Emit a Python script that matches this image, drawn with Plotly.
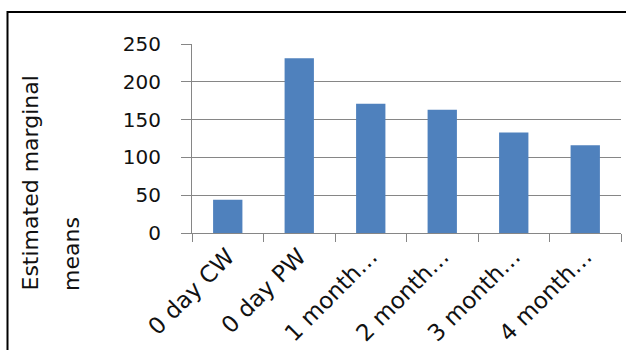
import plotly.graph_objects as go

# Data
categories = ["0 day CW", "0 day PW", "1 month\u2026", "2 month\u2026", "3 month\u2026", "4 month\u2026"]
means = [44, 231, 171, 163, 133, 116]
y_ticks = [0, 50, 100, 150, 200, 250]
y_title_lines = ["Estimated marginal", "means"]

W, H = 626, 350
PLOT_L, PLOT_R, PLOT_T, PLOT_B = 192, 621, 44, 233
FONT = "DejaVu Sans"
GRID = "#868686"
TEXT = "#111111"


def px_x(px):
    return (px - PLOT_L) / (PLOT_R - PLOT_L)


def px_y(py):
    return (PLOT_B - py) / (PLOT_B - PLOT_T)


fig = go.Figure(
    go.Bar(
        x=categories,
        y=means,
        marker=dict(color="#4f81bd", line=dict(width=0)),
    )
)

fig.update_layout(
    width=W,
    height=H,
    margin=dict(l=PLOT_L, r=W - PLOT_R, t=PLOT_T, b=H - PLOT_B, autoexpand=False),
    paper_bgcolor="white",
    plot_bgcolor="white",
    bargap=0.59,
    showlegend=False,
    font=dict(family=FONT, size=20, color=TEXT),
)

fig.update_xaxes(
    showline=True,
    linecolor=GRID,
    linewidth=1,
    ticks="outside",
    tickson="boundaries",
    ticklen=8,
    tickcolor=GRID,
    tickangle=-45,
    tickfont=dict(family=FONT, size=23, color=TEXT),
    showgrid=False,
)

fig.update_yaxes(
    range=[0, 250],
    tickvals=y_ticks,
    showline=True,
    linecolor=GRID,
    linewidth=1,
    ticks="outside",
    ticklen=10,
    tickcolor=GRID,
    showgrid=True,
    gridcolor=GRID,
    gridwidth=1,
    zeroline=False,
    ticklabelstandoff=16,
    tickfont=dict(family=FONT, size=20, color=TEXT),
)

# Two-line axis title, each line bottom-aligned
for text, cx in zip(y_title_lines, [30, 71]):
    fig.add_annotation(
        text=text,
        xref="paper",
        yref="paper",
        x=px_x(cx),
        y=px_y(293),
        xanchor="center",
        yanchor="bottom",
        textangle=-90,
        showarrow=False,
        font=dict(family=FONT, size=22, color=TEXT),
    )

# Black outer frame
fig.add_shape(
    type="rect",
    xref="paper",
    yref="paper",
    x0=px_x(7.5),
    y0=px_y(H + 20),
    x1=px_x(W + 20),
    y1=px_y(12),
    line=dict(color="black", width=2),
    fillcolor="rgba(0,0,0,0)",
    layer="above",
)

fig.write_html("out.html")
